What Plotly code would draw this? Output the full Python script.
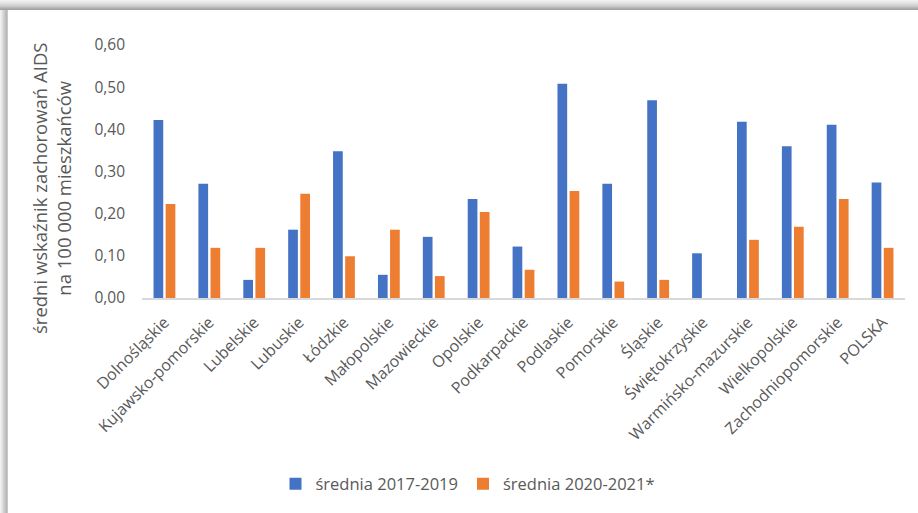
import plotly.graph_objects as go

# Regions (voivodeships) and the national total
regions = [
    "Dolnośląskie", "Kujawsko-pomorskie", "Lubelskie", "Lubuskie", "Łódzkie",
    "Małopolskie", "Mazowieckie", "Opolskie", "Podkarpackie", "Podlaskie",
    "Pomorskie", "Śląskie", "Świętokrzyskie", "Warmińsko-mazurskie",
    "Wielkopolskie", "Zachodniopomorskie", "POLSKA",
]

# Average AIDS incidence per 100 000 inhabitants
avg_2017_2019 = [0.422, 0.271, 0.043, 0.162, 0.348, 0.055, 0.145, 0.235, 0.122,
                 0.508, 0.271, 0.469, 0.106, 0.418, 0.360, 0.411, 0.274]
avg_2020_2021 = [0.223, 0.119, 0.119, 0.247, 0.099, 0.162, 0.052, 0.204, 0.067,
                 0.254, 0.039, 0.043, 0.000, 0.138, 0.169, 0.235, 0.119]

series_names = ["średnia 2017-2019", "średnia 2020-2021*"]
y_ticks = [0.0, 0.1, 0.2, 0.3, 0.4, 0.5, 0.6]

BLUE = "#4472C4"
ORANGE = "#ED7D31"
TEXT = "#595959"
FONT = "Open Sans"

W, H = 918, 513
ML, MR, MT, MB = 142, 13, 45, 215
PW, PH = W - ML - MR, H - MT - MB


def px_x(px):
    return (px - ML) / PW


def px_y(py):
    return (H - MB - py) / PH


fig = go.Figure()
fig.add_trace(go.Bar(x=regions, y=avg_2017_2019, name=series_names[0],
                     marker=dict(color=BLUE, line=dict(width=0))))
fig.add_trace(go.Bar(x=regions, y=avg_2020_2021, name=series_names[1],
                     marker=dict(color=ORANGE, line=dict(width=0))))

# Card frame: soft grey shadow along the top and left edges
shapes = []
top_shades = ["#f2f2f2", "#ececec", "#e6e6e6", "#dfdfdf", "#d8d8d8",
              "#d0d0d0", "#c6c6c6", "#bababa", "#adadad", "#a2a2a2"]
for i, c in enumerate(top_shades):
    shapes.append(dict(type="rect", xref="paper", yref="paper",
                       x0=px_x(0), x1=px_x(W), y0=px_y(i + 1), y1=px_y(i),
                       fillcolor=c, line=dict(width=0), layer="above"))
left_shades = ["#f0f0f0", "#e8e8e8", "#dedede", "#d4d4d4", "#cacaca",
               "#c0c0c0", "#b8b8b8", "#c8c8c8"]
for i, c in enumerate(left_shades):
    shapes.append(dict(type="rect", xref="paper", yref="paper",
                       x0=px_x(i), x1=px_x(i + 1), y0=px_y(H), y1=px_y(10),
                       fillcolor=c, line=dict(width=0), layer="above"))

fig.update_layout(
    width=W, height=H,
    margin=dict(l=ML, r=MR, t=MT, b=MB),
    paper_bgcolor="white", plot_bgcolor="white",
    separators=", ",
    font=dict(family=FONT, size=15, color=TEXT),
    barmode="group", bargap=0.46, bargroupgap=0.2,
    showlegend=True,
    legend=dict(orientation="h", x=px_x(468), xanchor="center",
                y=px_y(484), yanchor="middle",
                font=dict(family=FONT, size=16.5, color=TEXT),
                itemsizing="constant", bgcolor="rgba(0,0,0,0)"),
    xaxis=dict(tickangle=-45, showline=True, linecolor="#d9d9d9", linewidth=1.5,
               showgrid=False, ticks="", ticklabelstandoff=7,
               tickfont=dict(family=FONT, size=16, color=TEXT)),
    yaxis=dict(range=[0, 0.6], tickvals=y_ticks, tickformat=".2f",
               showgrid=False, zeroline=False, showline=False, ticks="",
               ticklabelstandoff=16,
               tickfont=dict(family=FONT, size=15.5, color=TEXT)),
    shapes=shapes,
    annotations=[dict(
        text="średni wskaźnik zachorowań AIDS<br>na 100 000 mieszkańców",
        xref="paper", yref="paper", x=px_x(51), y=px_y(189),
        xanchor="center", yanchor="middle", textangle=-90, showarrow=False,
        font=dict(family=FONT, size=18.5, color=TEXT),
    )],
)

fig.write_html("out.html")
